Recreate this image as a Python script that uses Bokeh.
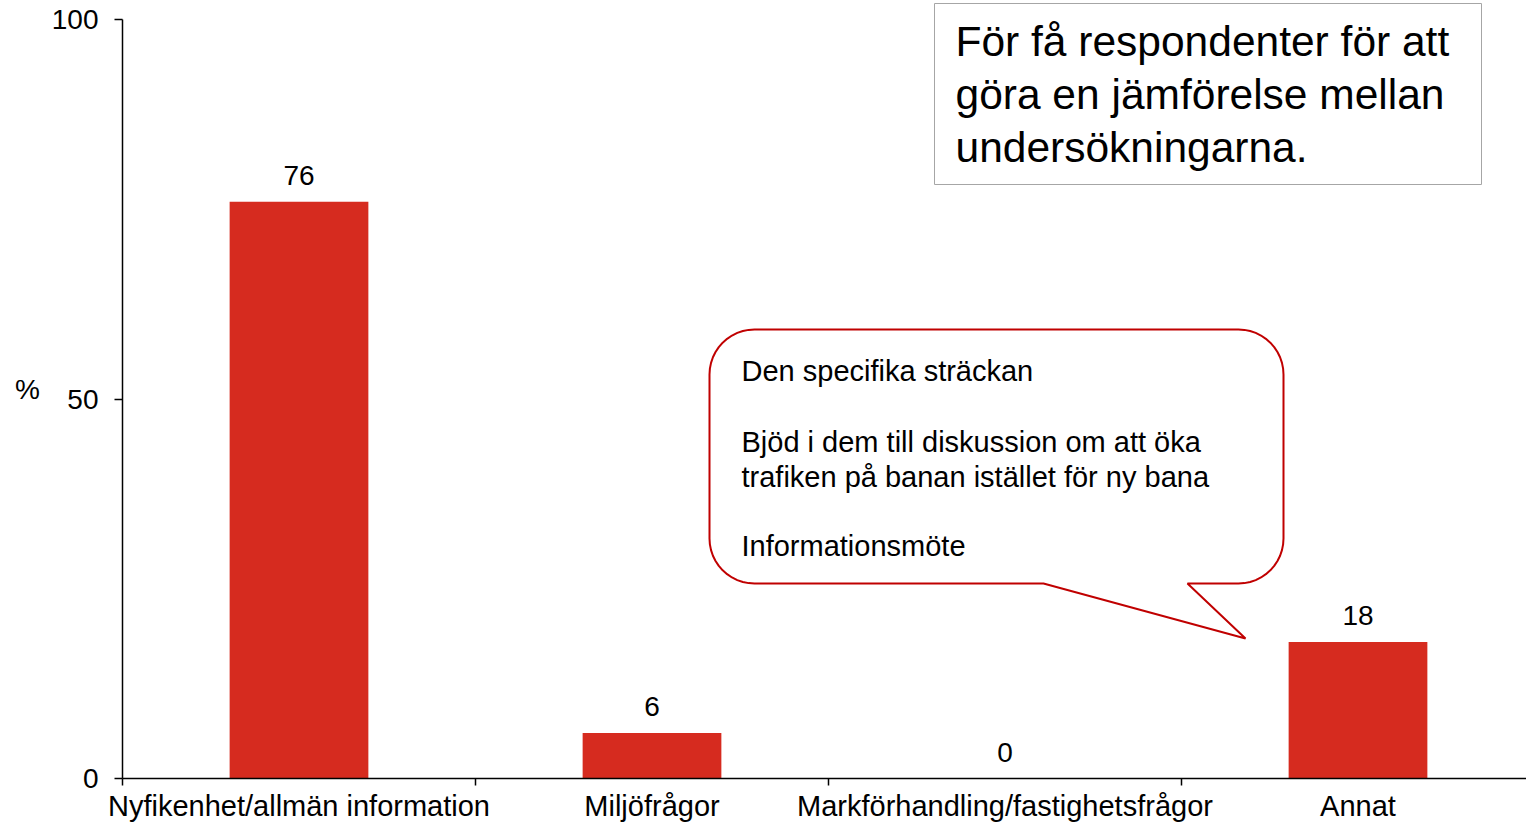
import math
from bokeh.plotting import figure
from bokeh.models import Range1d, FixedTicker
from bokeh.embed import file_html
from bokeh.resources import INLINE
from bokeh.core.properties import value

# ---------------- data ----------------
categories = ["Nyfikenhet/allmän information", "Miljöfrågor",
              "Markförhandling/fastighetsfrågor", "Annat"]
percent = [76, 6, 0, 18]
y_ticks = [0, 50, 100]
y_label = "%"
note_lines = ["För få respondenter för att", "göra en jämförelse mellan",
              "undersökningarna."]
bubble_lines = ["Den specifika sträckan", "Bjöd i dem till diskussion om att öka",
                "trafiken på banan istället för ny bana", "Informationsmöte"]

# ---------------- style / layout ----------------
FONT = "Liberation Sans"
RED = "#d62b1f"
W, H = 1526, 824
PX_X = 353.0      # px per category
PX_Y = 7.59       # px per percent
X0, Y0 = 122.0, 778.0   # canvas px of data origin


def dx(px):
    return (px - X0) / PX_X


def dy(py):
    return (Y0 - py) / PX_Y


p = figure(width=W, height=H, output_backend="svg", toolbar_location=None,
           x_range=Range1d(0, dx(W)), y_range=Range1d(0, dy(0)),
           min_border_left=int(X0), min_border_right=0, min_border_top=0,
           min_border_bottom=H - int(Y0))
p.outline_line_color = None
p.grid.grid_line_color = None
p.background_fill_color = "white"
p.border_fill_color = "white"

pos = [i + 0.5 for i in range(len(categories))]

# x axis
xa = p.xaxis[0]
xa.ticker = FixedTicker(ticks=pos, minor_ticks=list(range(len(categories))))
xa.major_label_overrides = {pv: c for pv, c in zip(pos, categories)}
xa.major_tick_out = 0
xa.major_tick_in = 0
xa.minor_tick_out = 7
xa.minor_tick_in = 0
xa.minor_tick_line_color = "black"
xa.minor_tick_line_width = 1.5
xa.axis_line_color = "black"
xa.axis_line_width = 1.5
xa.major_label_standoff = 4
xa.major_label_text_font = FONT
xa.major_label_text_font_size = "29px"
xa.major_label_text_color = "black"

# y axis
ya = p.yaxis[0]
ya.ticker = FixedTicker(ticks=y_ticks)
ya.bounds = (0, 100)
ya.major_tick_out = 8
ya.major_tick_in = 0
ya.minor_tick_line_color = None
ya.major_tick_line_color = "black"
ya.major_tick_line_width = 1.5
ya.axis_line_color = "black"
ya.axis_line_width = 1.5
ya.major_label_standoff = 16
ya.major_label_text_font = FONT
ya.major_label_text_font_size = "28px"
ya.major_label_text_color = "black"
ya.axis_label = y_label
ya.axis_label_orientation = "horizontal"
ya.axis_label_standoff = 9
ya.axis_label_text_font = FONT
ya.axis_label_text_font_style = "normal"
ya.axis_label_text_font_size = "28px"
ya.axis_label_text_color = "black"

# bars
p.vbar(x=pos, top=percent, width=0.393, fill_color=RED, line_color=None)
p.text(x=pos, y=percent, text=[str(v) for v in percent], text_align="center",
       text_baseline="middle", y_offset=-26, text_font=value(FONT),
       text_font_size="28px", text_color="black")

# note box (top right)
p.quad(left=dx(934), right=dx(1481), top=dy(3), bottom=dy(184),
       fill_color="white", line_color="#a6a6a6", line_width=1)
p.text(x=[dx(955)] * len(note_lines), y=[dy(b) for b in (41, 94, 147)],
       text=note_lines, text_align="left", text_baseline="middle",
       text_font=value(FONT), text_font_size="42.5px", text_color="black")

# speech bubble
bx0, by0, bx1, by1, r = 709, 329, 1283, 583, 45
tail = [(1187, 583), (1245, 638), (1043, 583)]


def arc(cx, cy, a0, a1, n=12):
    return [(cx + r * math.cos(math.radians(a0 + (a1 - a0) * k / n)),
             cy + r * math.sin(math.radians(a0 + (a1 - a0) * k / n))) for k in range(n + 1)]


path = []
path += arc(bx0 + r, by0 + r, 180, 270)
path += arc(bx1 - r, by0 + r, 270, 360)
path += arc(bx1 - r, by1 - r, 0, 90)
path += tail
path += arc(bx0 + r, by1 - r, 90, 180)
p.patch([dx(a) for a, b in path], [dy(b) for a, b in path], fill_color="white",
        line_color="#c00000", line_width=2)
p.text(x=[dx(741)] * len(bubble_lines), y=[dy(b) for b in (370, 441, 476, 545)],
       text=bubble_lines, text_align="left", text_baseline="middle",
       text_font=value(FONT), text_font_size="29px", text_color="black")

open("out.html", "w").write(file_html(p, INLINE))
